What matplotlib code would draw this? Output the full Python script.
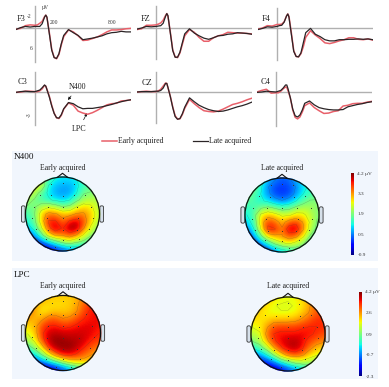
import numpy as np
import matplotlib
matplotlib.use('Agg')
import matplotlib.pyplot as plt
from matplotlib.patches import Circle, Rectangle, FancyBboxPatch
from matplotlib.cm import ScalarMappable
from matplotlib.colors import Normalize

plt.rcParams['font.family'] = ['Liberation Serif', 'DejaVu Serif']

W, H = 389, 387
RED = '#e8606a'
BLACK = '#2b2426'
PANEL = '#f1f6fd'

# ----------------- ERP data (ms, uV, negative up) -----------------
times = [-200, -150, -100, -50, 0, 25, 50, 75, 100, 113, 125, 150, 175, 200, 225, 250, 275, 300,
         350, 400, 450, 500, 550, 600, 650, 700, 750, 800, 850, 900, 950, 1000]

f3_late = [0.4, -0.1, -0.4, -0.25, -0.4, -0.4, -0.4, -1.1, -2.8, -3.3, -2.8, 1.5, 5.7, 7.6, 7.8, 6.6, 4.0, 1.9,
           0.4, 1.2, 1.9, 3.0, 2.8, 2.6, 2.3, 2.0, 1.5, 1.2, 1.1, 0.85, 1.0, 1.0]
f3_early = [0.3, 0.1, -0.6, -0.8, -0.7, -0.8, -1.2, -1.7, -2.9, -3.3, -2.7, 1.2, 5.5, 7.5, 7.9, 6.8, 4.3, 2.2,
            0.5, 1.0, 2.0, 3.2, 3.1, 2.7, 2.3, 1.7, 1.0, 0.5, 0.5, 0.4, 0.2, 0.1]
fz_late = [0.3, 0.0, -0.4, -0.3, -0.4, -0.5, -0.6, -1.2, -3.0, -3.7, -3.2, 1.3, 5.8, 7.5, 7.5, 6.2, 3.8, 1.5,
           0.2, 1.3, 2.0, 2.6, 2.9, 2.5, 2.0, 1.9, 1.6, 1.5, 1.2, 1.3, 1.4, 1.6]
fz_early = [0.4, 0.2, -0.7, -0.7, -0.8, -1.0, -1.3, -2.0, -3.2, -3.7, -3.0, 1.1, 5.6, 7.4, 7.6, 6.4, 4.2, 2.0,
            0.4, 1.1, 2.4, 3.4, 3.4, 2.5, 2.0, 1.7, 1.1, 1.2, 1.3, 1.3, 1.4, 1.5]
f4_late = [0.4, 0.1, -0.3, -0.2, -0.4, -0.6, -0.7, -1.5, -3.1, -3.6, -2.8, 1.6, 6.0, 7.3, 7.4, 6.4, 3.8, 1.2,
           0.1, 1.6, 2.2, 3.0, 3.3, 3.3, 3.0, 3.0, 2.9, 2.9, 2.8, 2.9, 2.8, 3.0]
f4_early = [0.3, 0.0, -0.6, -0.5, -0.9, -0.9, -1.0, -1.6, -3.1, -3.6, -3.0, 1.2, 5.8, 7.3, 7.4, 6.6, 4.8, 2.4,
            0.7, 1.8, 2.7, 3.8, 4.0, 3.7, 3.3, 3.0, 2.5, 2.5, 2.9, 3.0, 2.8, 3.1]
c3_late = [0.1, -0.1, -0.2, -0.1, -0.1, -0.3, -0.5, -1.1, -1.8, -1.5, -0.6, 1.3, 3.6, 5.5, 6.6, 6.7, 5.8, 4.3,
           2.7, 3.0, 3.8, 4.3, 4.2, 4.2, 4.0, 3.8, 3.5, 3.2, 2.8, 2.5, 2.2, 2.0]
c3_early = [0.1, 0.0, -0.2, -0.2, -0.1, -0.1, -0.3, -0.8, -1.7, -1.5, -0.7, 1.1, 3.4, 5.4, 6.6, 6.8, 6.0, 4.4,
            2.8, 3.4, 4.9, 5.4, 5.7, 5.3, 4.7, 4.0, 3.3, 3.0, 2.9, 2.3, 2.2, 2.0]
cz_late = [0.0, -0.1, -0.1, -0.1, -0.2, -0.2, -0.4, -1.0, -2.2, -2.2, -1.2, 1.2, 4.0, 6.3, 7.0, 6.8, 5.6, 3.9,
           1.5, 2.5, 3.4, 4.0, 4.5, 4.8, 5.0, 4.9, 4.6, 4.2, 3.8, 3.5, 3.1, 2.6]
cz_early = [0.0, -0.1, -0.2, -0.1, -0.1, -0.3, -0.7, -1.5, -2.3, -2.2, -1.1, 1.1, 3.8, 6.1, 6.9, 6.9, 5.8, 4.2,
            1.9, 3.0, 4.0, 4.8, 5.0, 5.1, 4.9, 4.4, 3.8, 3.2, 2.9, 2.5, 2.0, 1.6]
c4_late = [0.1, 0.0, -0.2, -0.1, 0.0, -0.2, -0.4, -1.0, -1.8, -1.8, -0.9, 1.5, 4.4, 6.1, 6.4, 5.9, 4.6, 2.9,
           2.3, 3.3, 4.0, 4.3, 4.5, 4.6, 4.6, 4.5, 3.8, 3.5, 3.2, 3.0, 2.7, 2.5]
c4_early = [0.0, -0.4, -0.7, 0.3, 0.2, 0.2, -0.2, -0.8, -1.3, -1.2, -0.4, 1.5, 4.6, 6.5, 6.9, 6.4, 5.1, 3.5,
            2.8, 4.0, 4.8, 5.5, 5.4, 5.0, 4.8, 3.6, 3.4, 3.0, 2.9, 2.9, 2.6, 2.4]

# ----------------- topomap data (uV), rows front to back, columns left to right -----------------
n400_early = [
    [2.2, 2.2, 1.9, 1.3, 1.0, 0.9, 0.9, 1.0, 1.2, 1.3, 1.3],
    [2.4, 2.4, 2.2, 1.0, 0.7, 0.6, 0.6, 0.9, 1.3, 1.4, 1.4],
    [2.2, 2.0, 1.4, 0.9, 0.6, 0.5, 0.6, 1.0, 1.6, 1.7, 1.7],
    [1.9, 1.6, 1.3, 1.1, 0.9, 0.8, 1.0, 1.5, 1.9, 2.0, 2.0],
    [1.6, 1.6, 2.0, 2.2, 2.0, 1.7, 1.8, 2.3, 2.6, 2.4, 2.0],
    [1.3, 1.6, 2.6, 3.1, 3.0, 2.7, 2.7, 3.0, 3.0, 2.6, 2.1],
    [1.1, 1.5, 2.6, 3.6, 3.6, 3.1, 3.6, 3.8, 3.3, 2.5, 2.0],
    [0.7, 1.2, 2.2, 3.4, 4.0, 3.5, 4.1, 4.0, 3.0, 2.2, 1.8],
    [0.1, 0.6, 1.4, 2.5, 3.0, 3.0, 3.3, 2.9, 2.2, 1.7, 1.5],
    [-0.4, -0.2, 0.3, 0.8, 1.3, 1.8, 2.0, 1.7, 1.5, 1.3, 1.2],
    [-0.9, -0.9, -0.8, -0.5, -0.1, 0.2, 0.5, 0.5, 0.8, 1.0, 1.0],
]
n400_late = [
    [2.2, 1.9, 1.3, 0.7, 0.4, 0.2, 0.3, 0.6, 1.0, 1.2, 1.3],
    [2.1, 1.7, 1.1, 0.4, 0.1, 0.0, 0.1, 0.4, 0.9, 1.1, 1.2],
    [1.8, 1.4, 1.0, 0.5, 0.1, 0.0, 0.1, 0.5, 1.0, 1.3, 1.4],
    [1.5, 1.3, 1.1, 0.9, 0.6, 0.4, 0.6, 1.0, 1.4, 1.7, 1.7],
    [1.2, 1.3, 1.6, 1.8, 1.6, 1.4, 1.5, 1.8, 2.0, 1.9, 1.7],
    [1.0, 1.4, 2.4, 2.7, 2.5, 2.2, 2.2, 2.5, 2.4, 2.1, 1.7],
    [0.8, 1.2, 2.6, 3.4, 3.2, 2.7, 3.2, 3.4, 2.9, 2.2, 1.6],
    [0.4, 1.0, 2.3, 3.7, 3.6, 3.0, 3.9, 3.9, 3.0, 2.0, 1.5],
    [-0.1, 0.5, 1.5, 2.5, 2.8, 2.9, 3.3, 3.1, 2.4, 1.6, 1.3],
    [-0.5, -0.1, 0.5, 1.2, 1.8, 2.2, 2.4, 2.1, 1.7, 1.4, 1.3],
    [-0.9, -0.7, -0.5, 0.0, 0.5, 0.9, 1.1, 1.3, 1.5, 1.6, 1.6],
]
lpc_early = [
    [2.3, 2.4, 2.4, 2.3, 2.2, 2.2, 2.2, 2.4, 2.8, 3.2, 3.3],
    [2.6, 2.6, 2.2, 2.1, 2.1, 2.1, 2.2, 2.5, 3.0, 3.4, 3.6],
    [2.9, 2.5, 1.9, 2.1, 2.2, 2.2, 2.3, 2.6, 3.2, 3.5, 3.6],
    [2.6, 2.3, 2.4, 2.9, 2.9, 2.6, 2.7, 3.1, 3.4, 3.5, 3.6],
    [2.1, 2.3, 3.1, 3.4, 3.4, 3.2, 3.3, 3.5, 3.6, 3.6, 3.5],
    [1.8, 2.2, 3.3, 3.7, 3.8, 3.7, 3.7, 3.7, 3.7, 3.6, 3.4],
    [1.3, 1.9, 3.1, 3.9, 4.1, 4.0, 3.9, 3.9, 3.7, 3.4, 3.2],
    [0.6, 1.2, 2.2, 3.5, 4.0, 4.1, 4.1, 3.8, 3.4, 3.0, 2.8],
    [-0.3, 0.2, 1.0, 2.1, 3.1, 3.6, 3.6, 3.3, 2.9, 2.6, 2.4],
    [-1.2, -1.0, -0.5, 0.2, 0.9, 1.6, 2.2, 2.3, 2.3, 2.2, 2.1],
    [-2.1, -2.2, -2.1, -1.9, -1.5, -0.9, -0.3, 0.3, 0.8, 1.2, 1.3],
]
lpc_late = [
    [2.8, 2.7, 2.3, 2.0, 1.9, 1.8, 1.9, 2.1, 2.5, 2.9, 3.0],
    [2.7, 2.3, 2.0, 1.8, 1.7, 1.7, 1.8, 2.0, 2.5, 3.0, 3.1],
    [2.4, 2.1, 1.9, 1.8, 1.8, 1.8, 1.9, 2.2, 2.6, 3.0, 3.2],
    [2.1, 2.0, 2.1, 2.3, 2.3, 2.3, 2.4, 2.7, 3.0, 3.3, 3.3],
    [1.8, 1.9, 2.5, 3.1, 3.2, 3.2, 3.2, 3.3, 3.4, 3.4, 3.3],
    [1.4, 1.7, 2.8, 3.4, 3.5, 3.5, 3.5, 3.6, 3.5, 3.3, 3.1],
    [1.0, 1.3, 2.4, 3.3, 3.6, 3.8, 3.9, 3.6, 3.2, 2.9, 2.7],
    [0.2, 0.6, 1.3, 2.5, 3.3, 3.7, 3.9, 3.5, 2.8, 2.3, 2.1],
    [-0.9, -0.5, 0.1, 1.0, 2.1, 2.8, 3.0, 2.7, 2.1, 1.8, 1.6],
    [-1.8, -1.6, -1.2, -0.7, 0.1, 0.7, 1.2, 1.4, 1.3, 1.2, 1.1],
    [-2.3, -2.3, -2.2, -2.0, -1.6, -1.1, -0.6, -0.2, 0.2, 0.5, 0.6],
]

# electrode dots, head coords
dots_x = [-0.3, 0.0, 0.3, -0.62, -0.32, 0.0, 0.32, 0.62, -0.78, -0.4, 0.0, 0.4, 0.78,
          -0.82, -0.42, 0.0, 0.42, 0.82, -0.72, -0.38, 0.0, 0.38, 0.72, -0.45, 0.0, 0.45, -0.2, 0.2]
dots_y = [0.8, 0.85, 0.8, 0.52, 0.5, 0.48, 0.5, 0.52, 0.2, 0.2, 0.2, 0.2, 0.2,
          -0.1, -0.12, -0.12, -0.12, -0.1, -0.4, -0.42, -0.42, -0.42, -0.4, -0.68, -0.7, -0.68, -0.9, -0.9]


def px_axes(fig, x0, y0, x1, y1):
    # box in reference pixels, y counted from top
    return fig.add_axes([x0 / W, 1 - y1 / H, (x1 - x0) / W, (y1 - y0) / H])


def erp_panel(fig, zero_x, line_y, late, early, name, name_x, name_y, top, bottom):
    # 0.0958 px per ms, 3.9 px per uV
    ax = px_axes(fig, zero_x - 19.2, line_y - 22, zero_x + 95.8, line_y + 35)
    ax.set_xlim(-200, 1000)
    ax.set_ylim(35 / 3.9, -22 / 3.9)
    ax.axis('off')
    ax.axhline(0, color='#b0b0b0', linewidth=1.0)
    ax.plot([0, 0], [top, bottom], color='#b0b0b0', linewidth=1.0, clip_on=False)
    ax.plot(times, early, color=RED, linewidth=1.1)
    ax.plot(times, late, color=BLACK, linewidth=0.9)
    fig.text(name_x / W, 1 - name_y / H, name, fontsize=6, color='#222222', ha='left', va='center')
    return ax


def topomap(fig, cx, cy, r, values, vmin, vmax, title, title_y):
    ax = px_axes(fig, cx - r - 7, cy - r - 7, cx + r + 7, cy + r + 7)
    lim = (r + 7) / r
    ax.set_xlim(-lim, lim)
    ax.set_ylim(-lim, lim)
    ax.axis('off')
    grid = np.array(values)
    im = ax.imshow(grid, extent=[-1.05, 1.05, -1.05, 1.05], origin='upper', cmap='jet',
                   vmin=vmin, vmax=vmax, interpolation='bicubic', zorder=1)
    clip = Circle((0, 0), 1.02, transform=ax.transData)
    im.set_clip_path(clip)
    gx = np.linspace(-0.95, 0.95, grid.shape[1])
    gy = np.linspace(0.95, -0.95, grid.shape[0])
    cs = ax.contour(gx, gy, grid, levels=np.linspace(vmin, vmax, 9)[1:-1], colors='#3a3a3a',
                    linewidths=0.2, alpha=0.5, zorder=2)
    cs.set_clip_path(clip)
    ax.scatter(dots_x, dots_y, s=0.5, color='#333333', linewidths=0, zorder=3)
    ax.add_patch(Circle((0, 0), 1.0, fill=False, edgecolor='#111111', linewidth=0.9, zorder=4))
    ax.plot([-0.14, 0.0, 0.14], [0.99, 1.1, 0.99], color='#111111', linewidth=0.8, zorder=4, clip_on=False)
    for side in (-1, 1):
        ax.add_patch(FancyBboxPatch((side * 1.06 - 0.05, -0.22), 0.10, 0.44, boxstyle='round,pad=0.0,rounding_size=0.04',
                                    facecolor='#d6e0ea', edgecolor='#333333', linewidth=0.6, zorder=0))
    fig.text(cx / W, 1 - title_y / H, title, fontsize=5.6, color='#222222', ha='center', va='center')


def colorbar(fig, x0, y0, x1, y1, vmin, vmax, labels):
    cax = px_axes(fig, x0, y0, x1, y1)
    sm = ScalarMappable(norm=Normalize(vmin, vmax), cmap='jet')
    cb = fig.colorbar(sm, cax=cax)
    cb.set_ticks(np.linspace(vmin, vmax, len(labels)), labels=labels)
    cb.ax.tick_params(length=0, labelsize=3.8, pad=2.5, colors='#333333')
    cb.outline.set_visible(False)


fig = plt.figure(figsize=(W / 100, H / 100), dpi=100)

page = fig.add_axes([0, 0, 1, 1], zorder=-1)
page.set_xlim(0, W)
page.set_ylim(H, 0)
page.axis('off')
page.add_patch(Rectangle((12, 151), 366, 110, facecolor=PANEL, edgecolor='none'))
page.add_patch(Rectangle((12, 268), 366, 111, facecolor=PANEL, edgecolor='none'))

erp_panel(fig, 35, 28, f3_late, f3_early, 'F3', 17, 19, -5.6, 8.6)
erp_panel(fig, 156, 28, fz_late, fz_early, 'FZ', 141, 19, -5.6, 8.0)
erp_panel(fig, 277, 28, f4_late, f4_early, 'F4', 262, 19, -5.2, 8.2)
ax_c3 = erp_panel(fig, 35, 92, c3_late, c3_early, 'C3', 18, 82, -5.1, 8.5)
erp_panel(fig, 156, 92, cz_late, cz_early, 'CZ', 142, 83, -5.1, 8.0)
erp_panel(fig, 276, 92, c4_late, c4_early, 'C4', 261, 82, -5.1, 8.8)

page.text(45, 7, 'µV', fontsize=4, color='#333333', ha='center', va='center')
page.text(29, 17, '-2', fontsize=4, color='#333333', ha='center', va='center')
page.text(31, 48, '6', fontsize=4, color='#333333', ha='center', va='center')
page.text(54, 23, '200', fontsize=4, color='#333333', ha='center', va='center')
page.text(112, 23, '800', fontsize=4, color='#333333', ha='center', va='center')
page.text(29, 115, '-3', fontsize=4, color='#333333', rotation=90, ha='center', va='center')

page.annotate('N400', xy=(68, 100), xytext=(78, 87), fontsize=5.8, color='#222222', ha='center', va='center',
              arrowprops=dict(arrowstyle='-|>', color='#111111', linewidth=0.5, mutation_scale=4,
                              shrinkA=2, shrinkB=0))
page.annotate('LPC', xy=(87, 113), xytext=(79, 129), fontsize=5.8, color='#222222', ha='center', va='center',
              arrowprops=dict(arrowstyle='-|>', color='#111111', linewidth=0.5, mutation_scale=4,
                              shrinkA=2, shrinkB=0))

page.plot([102, 117], [141, 141], color=RED, linewidth=1.1)
page.text(118, 141, 'Early acquired', fontsize=5.6, color='#222222', ha='left', va='center')
page.plot([193, 208], [141, 141], color=BLACK, linewidth=0.9)
page.text(209, 141, 'Late acquired', fontsize=5.6, color='#222222', ha='left', va='center')

page.text(14, 157, 'N400', fontsize=6.6, color='#111111', ha='left', va='center')
page.text(14, 275, 'LPC', fontsize=6.6, color='#111111', ha='left', va='center')

topomap(fig, 62.5, 214, 37, n400_early, -0.9, 4.2, 'Early acquired', 168)
topomap(fig, 282, 215, 37, n400_late, -0.9, 4.2, 'Late acquired', 168)
topomap(fig, 63, 333, 37.5, lpc_early, -2.3, 4.2, 'Early acquired', 286)
topomap(fig, 288, 334, 37, lpc_late, -2.3, 4.2, 'Late acquired', 286)

colorbar(fig, 351, 173, 354, 255, -0.9, 4.2, ['-0.9', '0.5', '1.9', '3.3', '4.2 µV'])
colorbar(fig, 359, 292, 362, 376, -2.3, 4.2, ['-2.3', '-0.7', '0.9', '2.6', '4.2 µV'])

fig.savefig('out.png', dpi=100)
